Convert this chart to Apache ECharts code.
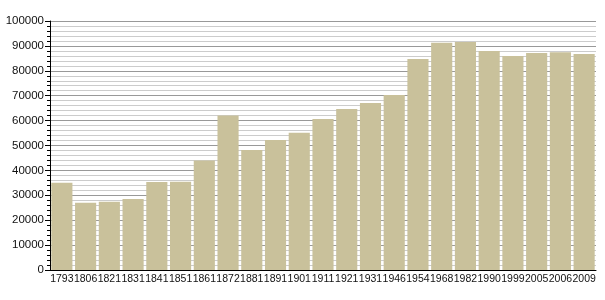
<!DOCTYPE html>
<html>
<head>
<meta charset="utf-8">
<style>html,body{margin:0;padding:0;background:#fff;}#c{width:605px;height:300px;}</style>
<script src="https://cdn.jsdelivr.net/npm/echarts@6/dist/echarts.min.js"></script>
</head>
<body>
<div id="c"></div>
<script>
const years = ['1793','1806','1821','1831','1841','1851','1861','1872','1881','1891','1901','1911','1921','1931','1946','1954','1968','1982','1990','1999','2005','2006','2009'];
const population = [35000,27000,27400,28500,35300,35400,44000,62000,48200,52200,55100,60600,64700,67100,70300,84700,91300,91600,88000,85900,87100,87500,86700];
const yTicks = [0,10000,20000,30000,40000,50000,60000,70000,80000,90000,100000];

const chart = echarts.init(document.getElementById('c'), null, {renderer:'canvas'});
chart.setOption({
  animation: false,
  grid: {left: 50, right: 9, top: 21, bottom: 30, containLabel: false},
  xAxis: {
    type: 'category',
    data: years,
    axisLine: {show: true, lineStyle: {color: '#000', width: 1}},
    axisTick: {show: false},
    axisLabel: {color: '#111', fontFamily: '"Liberation Sans", Arial, sans-serif', fontSize: 10.5, margin: 4, interval: 0},
    splitLine: {show: false}
  },
  yAxis: {
    type: 'value',
    min: yTicks[0],
    max: yTicks[yTicks.length - 1],
    interval: 10000,
    axisLine: {show: true, lineStyle: {color: '#000', width: 1}},
    axisTick: {show: true, length: 5, lineStyle: {color: '#000'}},
    minorTick: {show: true, splitNumber: 5, length: 3, lineStyle: {color: '#000'}},
    axisLabel: {color: '#111', fontFamily: '"Liberation Sans", Arial, sans-serif', fontSize: 11.5, margin: 6, formatter: v => String(v)},
    splitLine: {show: true, lineStyle: {color: '#999', width: 1}},
    minorSplitLine: {show: true, lineStyle: {color: '#ccc', width: 1}}
  },
  series: [{
    type: 'bar',
    data: population,
    barCategoryGap: '11%',
    itemStyle: {color: '#c9c19b'},
    emphasis: {disabled: true}
  }]
});
</script>
</body>
</html>
